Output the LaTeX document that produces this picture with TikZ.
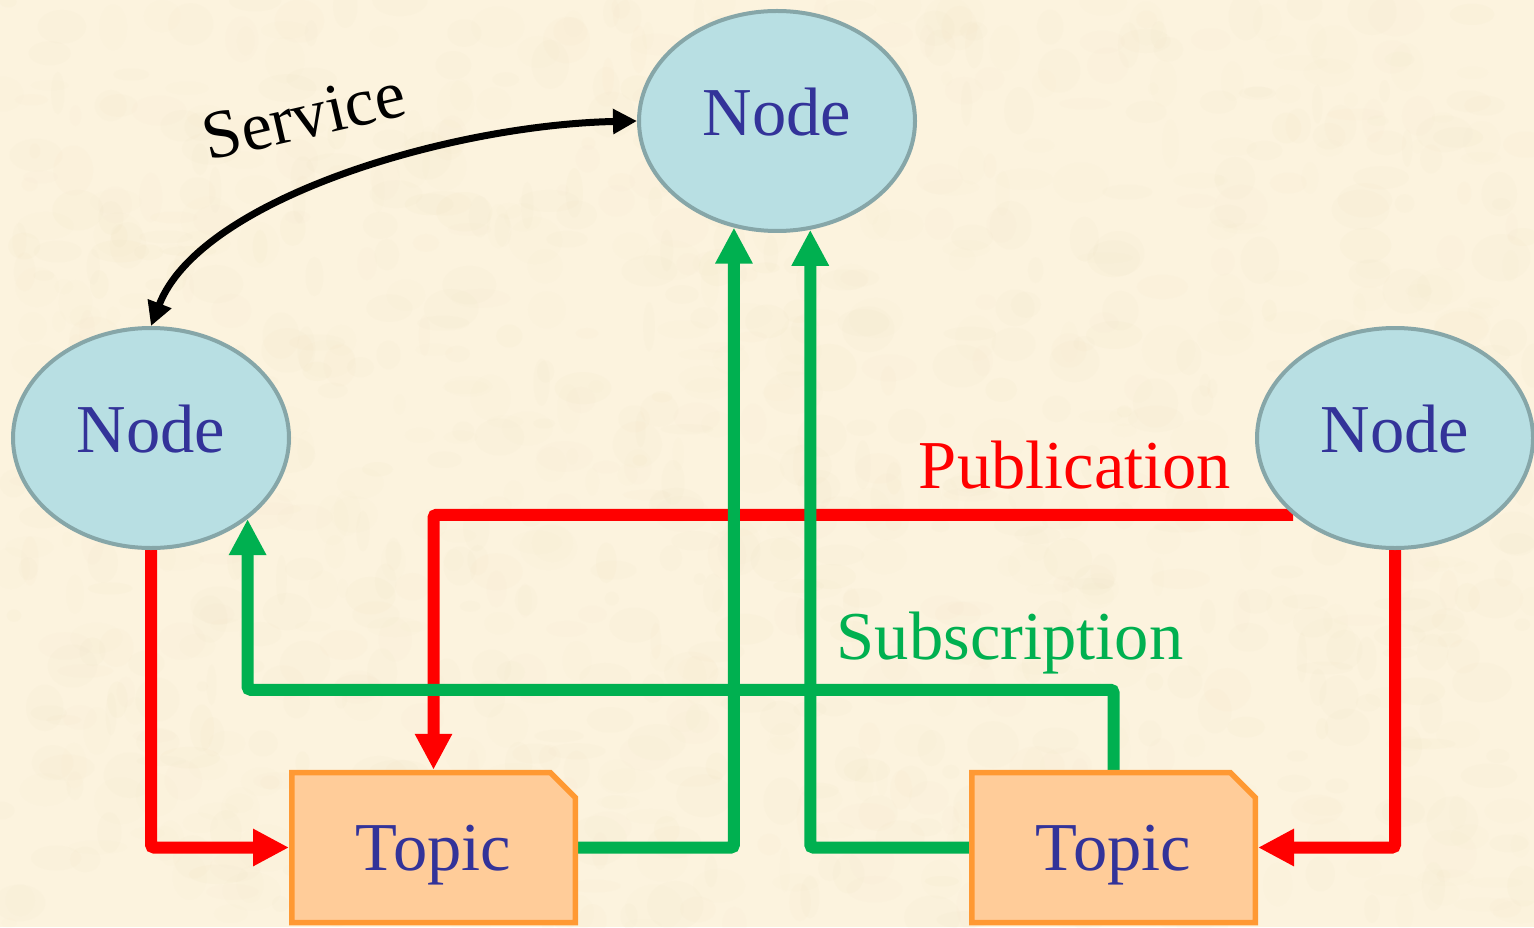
\documentclass[tikz,border=0pt]{standalone}
\usepackage{fontspec}
\setmainfont{Liberation Serif}
\usetikzlibrary{shapes.geometric,shapes.misc,arrows.meta,calc}

\definecolor{paper}{RGB}{252,243,222}
\definecolor{paperdark}{RGB}{236,222,186}
\definecolor{nodefill}{RGB}{184,223,227}
\definecolor{nodeedge}{RGB}{134,166,168}
\definecolor{inkblue}{RGB}{51,51,153}
\definecolor{topicfill}{RGB}{255,204,153}
\definecolor{topicedge}{RGB}{255,153,51}
\definecolor{pubred}{RGB}{255,0,0}
\definecolor{subgreen}{RGB}{0,176,80}

\pgfdeclarelayer{paperlayer}
\pgfdeclarelayer{wires}
\pgfsetlayers{paperlayer,wires,main}

\tikzset{
  bigfont/.style={font=\fontsize{19.5}{22}\selectfont},
  rosnode/.style={ellipse, draw=nodeedge, fill=nodefill, line width=0.04cm,
    minimum width=2.76cm, minimum height=2.20cm, inner sep=0pt,
    text=inkblue, bigfont, text depth=0.18cm},
  topicbox/.style={chamfered rectangle, chamfered rectangle corners=north east,
    chamfered rectangle xsep=0.13cm, chamfered rectangle ysep=0.12cm,
    draw=topicedge, fill=topicfill, line width=0.055cm,
    minimum width=2.835cm, minimum height=1.50cm, inner sep=0pt,
    text=inkblue, bigfont, text height=0.60cm},
  wire/.style={line width=0.12cm, rounded corners=0.03cm,
    -{Triangle[length=0.36cm,width=0.35cm]}},
  pub/.style={wire, draw=pubred},
  sub/.style={wire, draw=subgreen},
  srv/.style={line width=0.07cm, draw=black,
    {Triangle[length=0.24cm,width=0.24cm]}-{Triangle[length=0.24cm,width=0.24cm]}},
  lbl/.style={bigfont, inner sep=0pt}
}

\begin{document}
\begin{tikzpicture}
% paper background with a faint mottled texture
\begin{pgfonlayer}{paperlayer}
  \fill[paper] (0,0) rectangle (15.34,-9.27);
  \begin{scope}
    \clip (0,0) rectangle (15.34,-9.27);
    \pgfmathsetseed{11}
    \foreach \k in {1,...,1100} {
      \pgfmathsetmacro\px{rnd*15.34}
      \pgfmathsetmacro\py{-rnd*9.27}
      \pgfmathsetmacro\rx{0.05+rnd*0.25}
      \pgfmathsetmacro\ry{0.05+rnd*0.2}
      \pgfmathsetmacro\op{0.03+rnd*0.06}
      \fill[paperdark, opacity=\op] (\px,\py) ellipse [x radius=\rx, y radius=\ry];
    }
  \end{scope}
\end{pgfonlayer}
\useasboundingbox (0,0) rectangle (15.34,-9.27);

% ROS nodes
\node[rosnode] (top)   at (7.77,-1.21) {Node};
\node[rosnode] (left)  at (1.51,-4.38) {Node};
\node[rosnode] (right) at (13.95,-4.38) {Node};

% topics
\node[topicbox] (topicL) at (4.335,-8.475) {Topic};
\node[topicbox] (topicR) at (11.135,-8.475) {Topic};

% connectors
\begin{pgfonlayer}{wires}
  \draw[pub] (left.south) |- (topicL.west);
  \draw[pub] (right.217.6) -| (topicL.north);
  \draw[pub] (right.south) |- (topicR.east);
  \draw[sub] (topicL.east) -| (top.248.5);
  \draw[sub] (topicR.west) -| (top.287.9);
  \draw[sub] (topicR.north) -- ++(0,0.80) -| (left.320.8);
\end{pgfonlayer}
\draw[srv] (top.west) .. controls +(-1.87,-0.04) and +(0.49,1.27) .. (left.north);

% labels
\node[lbl, text=pubred]   (publbl) at (10.75,-4.65) {Publication};
\node[lbl, text=subgreen] (sublbl) at (10.10,-6.43) {Subscription};
\node[lbl, rotate=13]     (srvlbl) at (3.04,-1.16) {Service};
\end{tikzpicture}
\end{document}
